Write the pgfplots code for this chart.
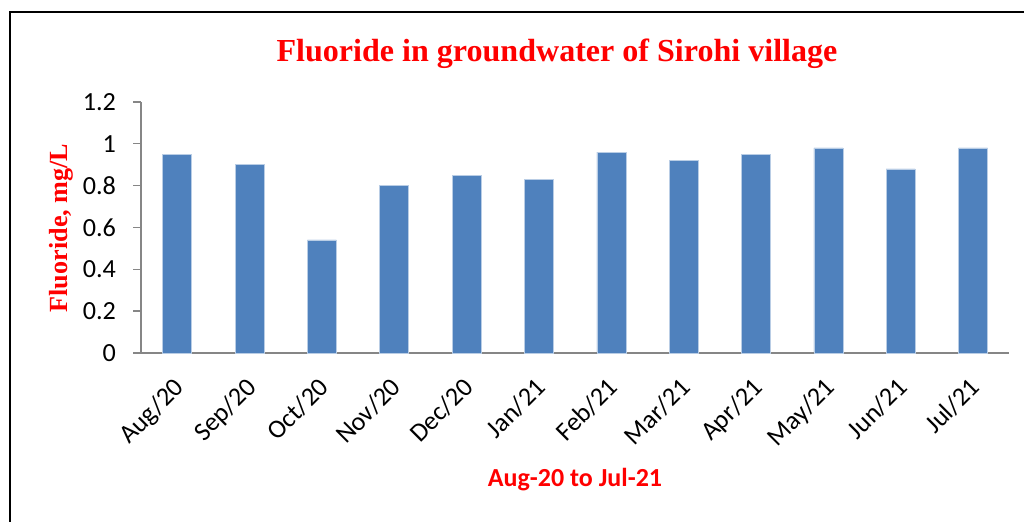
\documentclass[border=0pt]{standalone}
\usepackage{pgfplots}
\pgfplotsset{compat=1.18}
\usepackage{fontspec}
\setmainfont{Liberation Serif}
\newfontfamily\calibri{Carlito}
\definecolor{barblue}{RGB}{79,129,189}
\definecolor{baredge}{RGB}{185,205,229}
\definecolor{axgray}{RGB}{134,134,134}

\pgfplotstableread{
idx value
0 0.95
1 0.90
2 0.54
3 0.80
4 0.85
5 0.83
6 0.96
7 0.92
8 0.95
9 0.98
10 0.88
11 0.98
}\fluoride

\begin{document}
\begin{tikzpicture}
% 1 px of the reference = 0.025cm, origin at bottom left
\begin{scope}[x=0.025cm,y=0.025cm]
\path[use as bounding box] (0,0) rectangle (1024,521);
\draw[line width=1.4pt,line cap=rect] (10,0) -- (10,509) -- (1024,509);
\node[text=red,font=\bfseries\fontsize{22.8}{26}\selectfont] at (557,467) {Fluoride in groundwater of Sirohi village};
\node[text=red,font=\bfseries\fontsize{18.6}{22}\selectfont,rotate=90] at (61,293) {Fluoride, mg/L};
\node[text=red,font=\calibri\bfseries\fontsize{18.5}{22}\selectfont] at (575,41) {Aug-20 to Jul-21};
\end{scope}

\begin{axis}[
  at={(3.525cm,4.2cm)}, anchor=south west,
  scale only axis, width=21.7cm, height=6.275cm,
  xmin=-0.5, xmax=11.5, ymin=0, ymax=1.2,
  axis x line*=bottom, axis y line*=left,
  axis line style={axgray, line width=0.9pt, -},
  xtick=data,
  xticklabels={Aug/20,Sep/20,Oct/20,Nov/20,Dec/20,Jan/21,Feb/21,Mar/21,Apr/21,May/21,Jun/21,Jul/21},
  ytick={0,0.2,...,1.2},
  yticklabels={0,0.2,0.4,0.6,0.8,1,1.2},
  x tick style={draw=none},
  y tick style={axgray, line width=0.9pt},
  tick align=outside, major tick length=0.2cm,
  ticklabel style={font=\calibri\fontsize{18.6}{20}\selectfont},
  /pgf/number format/assume math mode=true,
  % shifts act in the rotated frame of the label
  xticklabel style={rotate=45, anchor=north east, inner sep=1pt, yshift=-4pt, xshift=-9pt},
  yticklabel style={inner sep=2pt, xshift=-10pt},
  clip=false,
]
\addplot[ybar, bar width=0.725cm, fill=barblue, draw=baredge, line width=0.4pt] table[x=idx,y=value] {\fluoride};
\end{axis}
\end{tikzpicture}
\end{document}
